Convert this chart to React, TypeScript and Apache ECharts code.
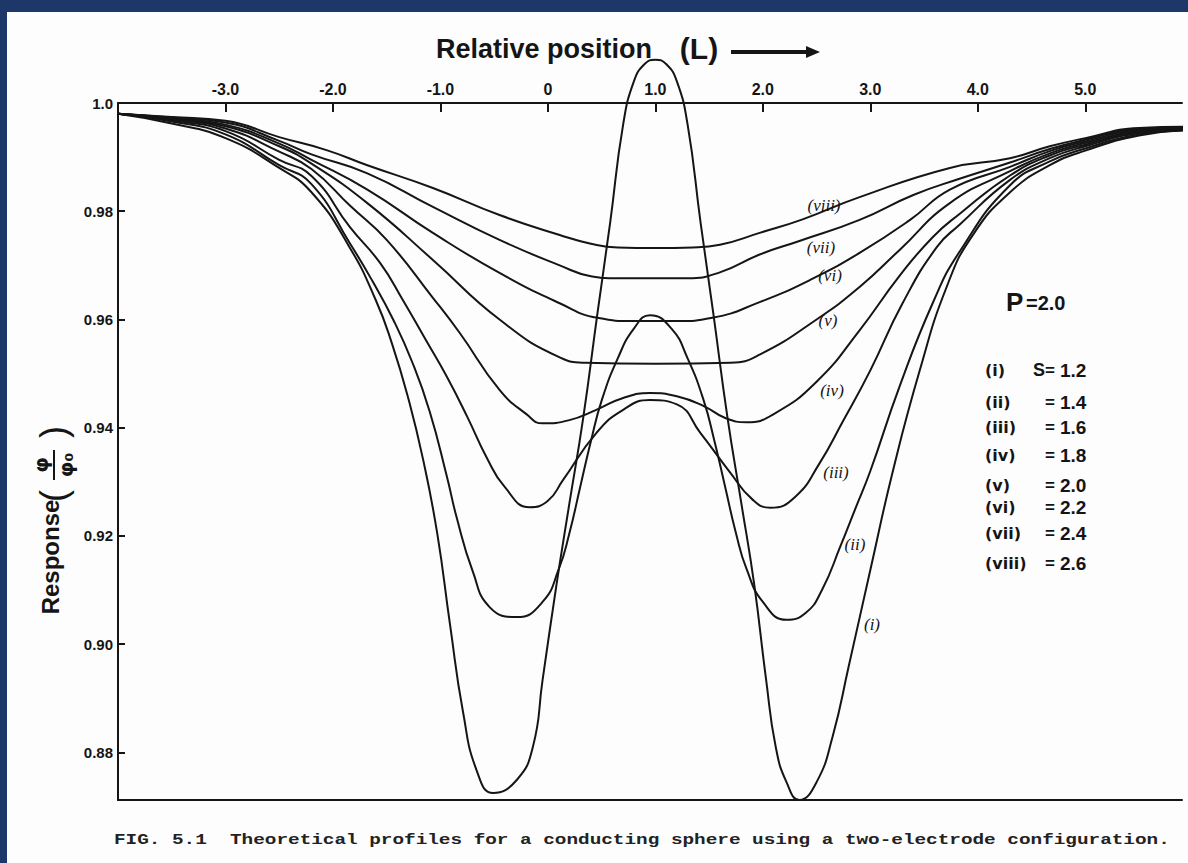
import React, { useEffect, useRef } from "react";
import * as echarts from "echarts";

// ---- axis ticks ----
const xTickValues = [-3, -2, -1, 0, 1, 2, 3, 4, 5];
const yTickValues = [0.88, 0.9, 0.92, 0.94, 0.96, 0.98, 1.0];

// ---- curves: [relative position L, response] ----
const curveI: [number, number][] = [
  [-4, 0.998], [-3.5, 0.9962], [-3, 0.9935], [-2.5, 0.988], [-2.2, 0.9835], [-1.85, 0.9735],
  [-1.6, 0.9635], [-1.45, 0.9555], [-1.3, 0.9455], [-1.16, 0.934], [-1.03, 0.9205], [-0.91, 0.9035],
  [-0.79, 0.8875], [-0.66, 0.8765], [-0.51, 0.8725], [-0.29, 0.8749], [-0.14, 0.881], [-0.05, 0.8933],
  [0.08, 0.911], [0.2, 0.926], [0.33, 0.942], [0.46, 0.961], [0.58, 0.978], [0.7, 0.996],
  [0.8, 1.004], [0.9, 1.0072], [1.0, 1.008], [1.1, 1.0072], [1.2, 1.004], [1.3, 0.996],
  [1.42, 0.978], [1.54, 0.961], [1.67, 0.942], [1.8, 0.926], [1.92, 0.911], [2.03, 0.8935],
  [2.12, 0.881], [2.22, 0.8745], [2.34, 0.8712], [2.5, 0.8745], [2.65, 0.883], [2.8, 0.896],
  [3.0, 0.9137], [3.21, 0.932], [3.46, 0.9506], [3.71, 0.966], [3.95, 0.9755], [4.3, 0.9835],
  [4.67, 0.9885], [5.0, 0.9912], [5.5, 0.994], [6.0, 0.995],
];
const curveII: [number, number][] = [
  [-4, 0.998], [-3.5, 0.9966], [-3, 0.9942], [-2.5, 0.9885], [-2.2, 0.985], [-1.84, 0.974],
  [-1.63, 0.967], [-1.44, 0.96], [-1.26, 0.952], [-1.1, 0.943], [-0.94, 0.931], [-0.85, 0.9235],
  [-0.7, 0.9135], [-0.54, 0.9068], [-0.29, 0.905], [-0.05, 0.9078], [0.1, 0.9138], [0.2, 0.9205],
  [0.3, 0.929], [0.4, 0.9375], [0.5, 0.945], [0.65, 0.9528], [0.8, 0.9583], [0.95, 0.9608],
  [1.15, 0.9583], [1.3, 0.9528], [1.45, 0.945], [1.55, 0.9375], [1.65, 0.929], [1.75, 0.9205],
  [1.85, 0.9138], [2.0, 0.9078], [2.22, 0.9045], [2.4, 0.9058], [2.55, 0.91], [2.72, 0.918],
  [2.86, 0.925], [3.0, 0.932], [3.27, 0.9475], [3.58, 0.963], [3.83, 0.9725], [4.3, 0.9848],
  [4.67, 0.9892], [5.0, 0.9916], [5.5, 0.9942], [6.0, 0.995],
];
const curveIII: [number, number][] = [
  [-4, 0.998], [-3.5, 0.9968], [-3, 0.9948], [-2.5, 0.9895], [-2.2, 0.9865], [-1.84, 0.977],
  [-1.56, 0.9704], [-1.35, 0.9636], [-1.13, 0.956], [-0.94, 0.9494], [-0.75, 0.942], [-0.57, 0.9345],
  [-0.4, 0.929], [-0.17, 0.9253], [0.0, 0.9265], [0.14, 0.9303], [0.45, 0.939], [0.7, 0.9433],
  [0.95, 0.9451], [1.2, 0.9443], [1.42, 0.939], [1.7, 0.9316], [1.9, 0.9268], [2.07, 0.9252],
  [2.3, 0.9272], [2.53, 0.9335], [2.74, 0.941], [3.0, 0.9506], [3.3, 0.963], [3.62, 0.9734],
  [3.83, 0.9775], [4.3, 0.9858], [4.67, 0.9898], [5.0, 0.992], [5.5, 0.9944], [6.0, 0.995],
];
const curveIV: [number, number][] = [
  [-4, 0.998], [-3.5, 0.997], [-3, 0.9953], [-2.5, 0.991], [-2.2, 0.9878], [-1.84, 0.981],
  [-1.5, 0.9747], [-1.07, 0.964], [-0.82, 0.9575], [-0.45, 0.947], [-0.2, 0.9425], [-0.05, 0.9408],
  [0.2, 0.9414], [0.45, 0.9433], [0.7, 0.9455], [0.95, 0.9464], [1.2, 0.9458], [1.45, 0.944],
  [1.65, 0.9418], [1.85, 0.941], [2.1, 0.9425], [2.5, 0.9485], [2.9, 0.958], [3.27, 0.968],
  [3.58, 0.9752], [3.83, 0.9795], [4.3, 0.9866], [4.67, 0.9903], [5.0, 0.9923], [5.5, 0.9946],
  [6.0, 0.9952],
];
const curveV: [number, number][] = [
  [-4, 0.998], [-3.5, 0.9971], [-3, 0.9957], [-2.5, 0.992], [-2.2, 0.9888], [-1.68, 0.9815],
  [-1.07, 0.971], [-0.45, 0.96], [0.11, 0.953], [0.35, 0.952], [1.0, 0.9518], [1.7, 0.952],
  [1.97, 0.9535], [2.5, 0.96], [2.9, 0.966], [3.27, 0.9728], [3.74, 0.9815], [4.3, 0.9874],
  [4.67, 0.9907], [5.0, 0.9926], [5.5, 0.9948], [6.0, 0.9953],
];
const curveVI: [number, number][] = [
  [-4, 0.998], [-3.5, 0.9972], [-3, 0.996], [-2.5, 0.9925], [-2.2, 0.9895], [-1.68, 0.984],
  [-1.07, 0.976], [-0.45, 0.9686], [0.11, 0.963], [0.46, 0.9603], [0.8, 0.9597], [1.2, 0.9597],
  [1.53, 0.9603], [1.97, 0.9632], [2.44, 0.9673], [2.9, 0.9723], [3.37, 0.9784], [3.74, 0.984],
  [4.3, 0.9882], [4.67, 0.9911], [5.0, 0.9929], [5.5, 0.995], [6.0, 0.9954],
];
const curveVII: [number, number][] = [
  [-4, 0.998], [-3.5, 0.9973], [-3, 0.9964], [-2.5, 0.993], [-2.2, 0.9905], [-1.68, 0.987],
  [-1.07, 0.9808], [-0.45, 0.9747], [0.11, 0.97], [0.4, 0.968], [0.65, 0.9676], [1.3, 0.9676],
  [1.6, 0.9687], [1.97, 0.972], [2.34, 0.9745], [2.9, 0.9784], [3.4, 0.983], [3.83, 0.986],
  [4.3, 0.989], [4.67, 0.9915], [5.0, 0.9932], [5.5, 0.9952], [6.0, 0.9955],
];
const curveVIII: [number, number][] = [
  [-4, 0.998], [-3.5, 0.9974], [-3, 0.9967], [-2.5, 0.9937], [-2.06, 0.9913], [-1.68, 0.9885],
  [-1.07, 0.9843], [-0.45, 0.9793], [0.11, 0.9756], [0.4, 0.974], [0.65, 0.9733], [1.0, 0.9732],
  [1.35, 0.9733], [1.6, 0.9738], [1.97, 0.976], [2.37, 0.9785], [2.9, 0.9826], [3.74, 0.988],
  [4.3, 0.9898], [4.67, 0.992], [5.0, 0.9935], [5.5, 0.9954], [6.0, 0.9956],
];

const curves = [curveI, curveII, curveIII, curveIV, curveV, curveVI, curveVII, curveVIII];
const curveNames = ["(i)", "(ii)", "(iii)", "(iv)", "(v)", "(vi)", "(vii)", "(viii)"];
const sValues = ["1.2", "1.4", "1.6", "1.8", "2.0", "2.2", "2.4", "2.6"];
const pValue = "2.0";

const titleText = "Relative position";
const captionText =
  "FIG. 5.1  Theoretical profiles for a conducting sphere using a two-electrode configuration.";

const INK = "#151515";
const NAVY = "#1d3868";

// annotation placement (pixels)
const curveLabelPos: [number, number][] = [
  [872, 624], [855, 544], [836, 472], [832, 390], [828, 320], [830, 275], [821, 247], [824, 205],
];
const legendRowY = [370, 402, 427, 455, 485, 507, 533, 563];

function buildGraphic() {
  const g: any[] = [];
  g.push({
    type: "text", x: 436, y: 49,
    style: { text: titleText, fill: INK, fontSize: 27, fontWeight: "bold", fontFamily: "Liberation Sans", verticalAlign: "middle", align: "left" },
  });
  g.push({
    type: "text", x: 699, y: 48,
    style: { text: "(L)", fill: INK, fontSize: 30, fontWeight: "bold", fontFamily: "Liberation Sans", verticalAlign: "middle", align: "center" },
  });
  g.push({ type: "line", shape: { x1: 731, y1: 52, x2: 810, y2: 52 }, style: { stroke: INK, lineWidth: 4 } });
  g.push({ type: "polygon", shape: { points: [[806, 46], [820, 52], [806, 58]] }, style: { fill: INK } });

  // y-axis name, rotated
  g.push({
    type: "text", x: 50, y: 557, rotation: Math.PI / 2,
    style: { text: "Response", fill: INK, fontSize: 24, fontWeight: "bold", fontFamily: "Liberation Sans", align: "center", verticalAlign: "middle" },
  });
  g.push({
    type: "text", x: 53, y: 496, rotation: Math.PI / 2,
    style: { text: "(", fill: INK, fontSize: 36, fontFamily: "Liberation Sans", align: "center", verticalAlign: "middle" },
  });
  g.push({
    type: "text", x: 53, y: 432, rotation: Math.PI / 2,
    style: { text: ")", fill: INK, fontSize: 36, fontFamily: "Liberation Sans", align: "center", verticalAlign: "middle" },
  });
  g.push({
    type: "text", x: 41, y: 465, rotation: Math.PI / 2,
    style: { text: "φ", fill: INK, fontSize: 20, fontWeight: "bold", fontFamily: "DejaVu Sans", align: "center", verticalAlign: "middle" },
  });
  g.push({ type: "line", shape: { x1: 54, y1: 450, x2: 54, y2: 480 }, style: { stroke: INK, lineWidth: 2 } });
  g.push({
    type: "text", x: 66, y: 465, rotation: Math.PI / 2,
    style: { text: "φ₀", fill: INK, fontSize: 20, fontWeight: "bold", fontFamily: "DejaVu Sans", align: "center", verticalAlign: "middle" },
  });

  // P = 2.0
  g.push({
    type: "text", x: 1006, y: 302,
    style: { text: "P", fill: INK, fontSize: 26, fontWeight: "bold", fontFamily: "Liberation Sans", align: "left", verticalAlign: "middle" },
  });
  g.push({
    type: "text", x: 1026, y: 303,
    style: { text: "=" + pValue, fill: INK, fontSize: 20, fontWeight: "bold", fontFamily: "Liberation Sans", align: "left", verticalAlign: "middle" },
  });

  // legend rows
  curveNames.forEach((name, i) => {
    const y = legendRowY[i];
    g.push({
      type: "text", x: 985, y,
      style: { text: name, fill: INK, fontSize: 16, fontWeight: "bold", fontFamily: "DejaVu Sans", align: "left", verticalAlign: "middle" },
    });
    if (i === 0) {
      g.push({
        type: "text", x: 1039, y,
        style: { text: "S", fill: INK, fontSize: 18, fontWeight: "bold", fontFamily: "Liberation Sans", align: "center", verticalAlign: "middle" },
      });
    }
    g.push({
      type: "text", x: 1050, y,
      style: { text: "=", fill: INK, fontSize: 17, fontWeight: "bold", fontFamily: "Liberation Sans", align: "center", verticalAlign: "middle" },
    });
    g.push({
      type: "text", x: 1060, y,
      style: { text: sValues[i], fill: INK, fontSize: 19, fontWeight: "bold", fontFamily: "Liberation Sans", align: "left", verticalAlign: "middle" },
    });
  });

  // curve labels
  curveNames.forEach((name, i) => {
    const [x, y] = curveLabelPos[i];
    g.push({
      type: "text", x, y,
      style: { text: name, fill: INK, fontSize: 17, fontFamily: "Liberation Serif", fontStyle: "italic", align: "center", verticalAlign: "middle" },
    });
  });

  // caption
  g.push({
    type: "text", x: 114, y: 840, scaleX: 1.29,
    style: { text: captionText, fill: "#222", fontSize: 15, fontWeight: "bold", fontFamily: "Liberation Mono", align: "left", verticalAlign: "middle" },
  });
  return g;
}

export default function App() {
  const ref = useRef<HTMLDivElement>(null);
  useEffect(() => {
    if (!ref.current) return;
    const chart = echarts.init(ref.current, null, { renderer: "svg" });
    const axisLineStyle = { color: INK, width: 2 };
    chart.setOption({
      animation: false,
      backgroundColor: "transparent",
      grid: { left: 118, right: 6, top: 103, bottom: 63, containLabel: false },
      xAxis: [
        {
          type: "value", position: "top", min: -4, max: 5.9,
          axisLine: { show: true, onZero: false, lineStyle: axisLineStyle },
          axisTick: { show: true, inside: true, length: 9, customValues: xTickValues, lineStyle: axisLineStyle },
          axisLabel: {
            show: true, customValues: xTickValues, margin: 6,
            formatter: (v: number) => (v === 0 ? "0" : v.toFixed(1)),
            color: INK, fontSize: 16, fontWeight: "bold", fontFamily: "Liberation Sans",
          },
          splitLine: { show: false },
        },
        {
          type: "value", position: "bottom", min: -4, max: 5.9,
          axisLine: { show: true, onZero: false, lineStyle: axisLineStyle },
          axisTick: { show: false }, axisLabel: { show: false }, splitLine: { show: false },
        },
      ],
      yAxis: {
        type: "value", min: 0.8712, max: 1.0,
        axisLine: { show: true, onZero: false, lineStyle: axisLineStyle },
        axisTick: { show: true, inside: true, length: 7, customValues: yTickValues, lineStyle: axisLineStyle },
        axisLabel: {
          show: true, customValues: yTickValues, margin: 5,
          formatter: (v: number) => (v >= 0.999 ? "1.0" : v.toFixed(2)),
          color: INK, fontSize: 15, fontWeight: "bold", fontFamily: "Liberation Sans",
        },
        splitLine: { show: false },
      },
      series: curves.map((data, i) => ({
        name: curveNames[i],
        type: "line",
        xAxisIndex: 0,
        data,
        showSymbol: false,
        symbol: "none",
        smooth: 0.5,
        clip: false,
        silent: true,
        lineStyle: { color: INK, width: 2 },
      })),
      graphic: buildGraphic(),
    });
    return () => chart.dispose();
  }, []);

  return (
    <div style={{ position: "fixed", left: 0, top: 0, width: 1188, height: 863, background: NAVY, overflow: "hidden" }}>
      <div style={{ position: "absolute", left: 7, top: 12, right: 0, bottom: 0, background: "#fdfdfd" }} />
      <div ref={ref} style={{ position: "absolute", left: 0, top: 0, width: 1188, height: 863 }} />
    </div>
  );
}
